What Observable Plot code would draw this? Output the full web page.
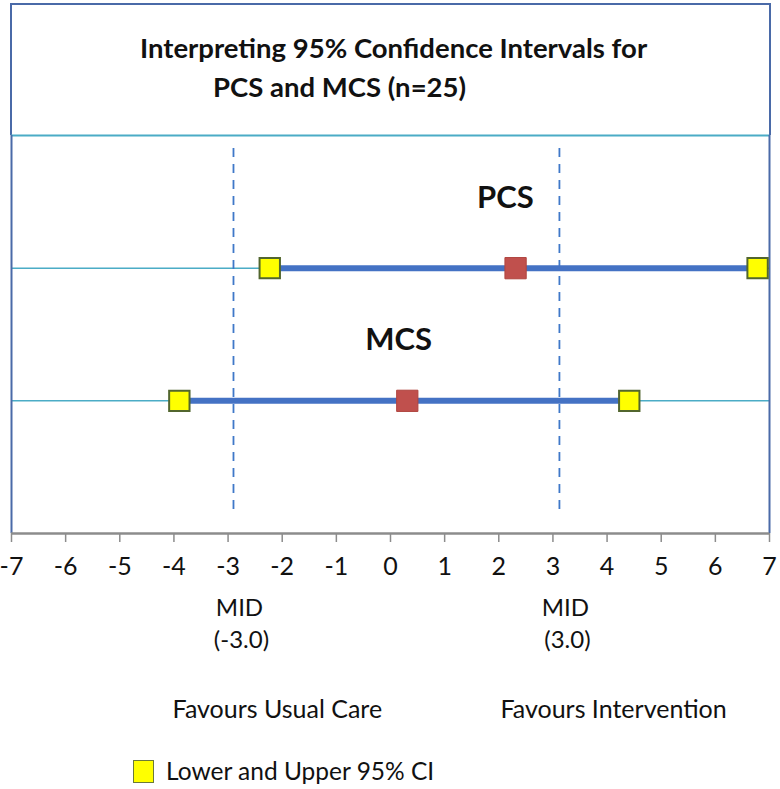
<!DOCTYPE html>
<html>
<head>
<meta charset="utf-8">
<script src="https://cdn.jsdelivr.net/npm/d3@7"></script>
<script src="https://cdn.jsdelivr.net/npm/@observablehq/plot@0.6"></script>
<style>
  html, body { margin: 0; padding: 0; background: #fff; }
  #wrap { position: relative; width: 780px; height: 789px; font-family: Lato, "Open Sans", sans-serif; color: #111; }
  #titlebox { position: absolute; left: 10px; top: 3px; width: 757px; height: 130px;
    border-top: 2px solid #4a6aa8; border-left: 2px solid #4a6aa8; border-right: 2px solid #4a6aa8; }
  .t { position: absolute; font-weight: bold; font-size: 27.5px; line-height: 28px; white-space: nowrap; }
  #plot { position: absolute; left: 0; top: 133px; }
  #legend { position: absolute; left: 133px; top: 758px; height: 26px; display: flex; align-items: center; font-size: 24.5px; line-height: 26px; }
  #legend .sw { width: 19px; height: 21px; background: #ffff00; border: 1.5px solid #6b7a3a; margin-right: 12px; }
</style>
</head>
<body>
<div id="wrap">
  <div id="titlebox"></div>
  <div class="t" id="t1" style="left:140px; top:34px;">Interpreting 95% Confidence Intervals for</div>
  <div class="t" id="t2" style="left:213px; top:73px;">PCS and MCS (n=25)</div>
  <div id="plot"></div>
  <div id="legend"><div class="sw"></div><span>Lower and Upper 95% CI</span></div>
</div>
<script>
// ---- data ----
const rows = ["PCS", "MCS"];
const rowPos = [1, 2];
const lowerCI = [-2.23, -3.90];
const meanDiff = [2.31, 0.31];
const upperCI = [6.78, 4.41];
const midValues = [-2.9, 3.12];
const midLabels = ["(-3.0)", "(3.0)"];
const favourLabels = ["Favours Usual Care", "Favours Intervention"];
const favourX = [-2.09, 4.12];
const rowLabelX = [2.12, 0.15];
const rowLabelY = [0.475, 1.545];
const xTicks = [-7, -6, -5, -4, -3, -2, -1, 0, 1, 2, 3, 4, 5, 6, 7];
const xDomain = [-7, 7];
const yDomain = [0, 3];

const ci = rows.map((r, i) => ({row: r, y: rowPos[i], lo: lowerCI[i], mean: meanDiff[i], hi: upperCI[i]}));
const ends = ci.flatMap(d => [{y: d.y, x: d.lo}, {y: d.y, x: d.hi}]);
const mids = midValues.map((v, i) => ({x: v, label: midLabels[i]}));
const favours = favourLabels.map((t, i) => ({x: favourX[i], label: t}));
const rowLabels = rows.map((r, i) => ({x: rowLabelX[i], y: rowLabelY[i], label: r}));

const chart = Plot.plot({
  width: 780,
  height: 656,
  marginTop: 2,
  marginBottom: 256,
  marginLeft: 11,
  marginRight: 11,
  style: {fontFamily: "Lato, 'Open Sans', sans-serif", background: "transparent", color: "#111"},
  x: {domain: xDomain},
  y: {domain: yDomain, reverse: true, axis: null},
  marks: [
    Plot.ruleY([yDomain[0]], {stroke: "#4bacc6", strokeWidth: 2}),
    Plot.ruleY(ci, {y: "y", stroke: "#4bacc6", strokeWidth: 1.5}),
    Plot.ruleX(mids, {x: "x", stroke: "#3f78c8", strokeWidth: 1.8, strokeDasharray: "9,7", insetTop: 13, insetBottom: 18}),
    Plot.ruleY(ci, {y: "y", x1: "lo", x2: "hi", stroke: "#4472c4", strokeWidth: 6}),
    Plot.ruleX(xDomain, {stroke: "#4a6aa8", strokeWidth: 2}),
    Plot.ruleY([yDomain[1]], {stroke: "#8c8c8c", strokeWidth: 2.5}),
    Plot.dot(ci, {x: "mean", y: "y", symbol: "square", r: 12, fill: "#c0504d", stroke: "#b0453f", strokeWidth: 1}),
    Plot.dot(ends, {x: "x", y: "y", symbol: "square", r: 11.5, fill: "#ffff00", stroke: "#52662e", strokeWidth: 2}),
    Plot.text(rowLabels, {x: "x", y: "y", text: "label", fontSize: 31, fontWeight: "bold", fill: "#111"}),
    Plot.axisX({ticks: xTicks, tickFormat: d => String(d), tickSize: 9, tickPadding: 15, fontSize: 25, stroke: "#8c8c8c", strokeWidth: 1.5, label: null, fill: "#111"}),
    Plot.text(mids, {x: "x", frameAnchor: "bottom", text: () => "MID", dy: 82, dx: 6, fontSize: 24}),
    Plot.text(mids, {x: "x", frameAnchor: "bottom", text: "label", dy: 114, dx: 8, fontSize: 24}),
    Plot.text(favours, {x: "x", frameAnchor: "bottom", text: "label", dy: 184, fontSize: 25})
  ]
});
document.getElementById("plot").appendChild(chart);
</script>
</body>
</html>
